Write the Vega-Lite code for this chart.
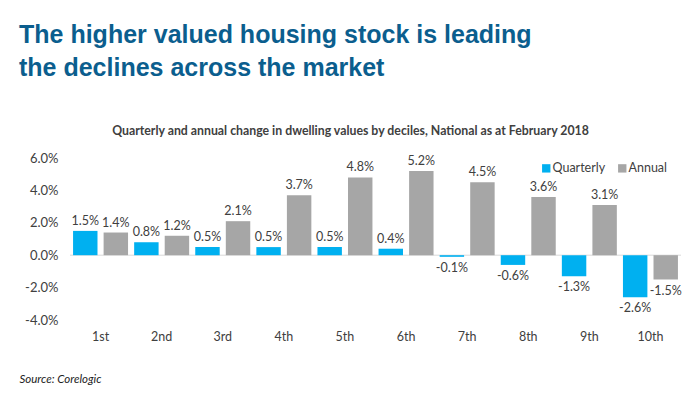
{
  "$schema": "https://vega.github.io/schema/vega-lite/v6.json",
  "background": "white",
  "padding": {"left": 19, "top": 22, "right": 5, "bottom": 5},
  "title": {
    "text": ["The higher valued housing stock is leading", "the declines across the market"],
    "anchor": "start",
    "font": "Liberation Sans",
    "fontSize": 25,
    "fontWeight": "bold",
    "color": "#0b5e8e",
    "lineHeight": 33,
    "offset": 44
  },
  "config": {
    "view": {"stroke": null},
    "font": "Lato",
    "locale": {"number": {"decimal": ".", "thousands": ",", "grouping": [3], "currency": ["$", ""], "minus": "-"}}
  },
  "vconcat": [
    {
      "width": 611,
      "height": 162,
      "title": {
        "text": "Quarterly and annual change in dwelling values by deciles, National as at February 2018",
        "font": "Lato",
        "fontSize": 12.3,
        "fontWeight": "bold",
        "color": "#404040",
        "anchor": "middle",
        "dx": -25,
        "offset": 15
      },
      "data": {
        "values": [
          {"decile": "1st", "series": "Quarterly", "value": 0.015},
          {"decile": "1st", "series": "Annual", "value": 0.014},
          {"decile": "2nd", "series": "Quarterly", "value": 0.008},
          {"decile": "2nd", "series": "Annual", "value": 0.012},
          {"decile": "3rd", "series": "Quarterly", "value": 0.005},
          {"decile": "3rd", "series": "Annual", "value": 0.021},
          {"decile": "4th", "series": "Quarterly", "value": 0.005},
          {"decile": "4th", "series": "Annual", "value": 0.037},
          {"decile": "5th", "series": "Quarterly", "value": 0.005},
          {"decile": "5th", "series": "Annual", "value": 0.048},
          {"decile": "6th", "series": "Quarterly", "value": 0.004},
          {"decile": "6th", "series": "Annual", "value": 0.052},
          {"decile": "7th", "series": "Quarterly", "value": -0.001},
          {"decile": "7th", "series": "Annual", "value": 0.045},
          {"decile": "8th", "series": "Quarterly", "value": -0.006},
          {"decile": "8th", "series": "Annual", "value": 0.036},
          {"decile": "9th", "series": "Quarterly", "value": -0.013},
          {"decile": "9th", "series": "Annual", "value": 0.031},
          {"decile": "10th", "series": "Quarterly", "value": -0.026},
          {"decile": "10th", "series": "Annual", "value": -0.015}
        ]
      },
      "layer": [
        {
          "data": {"values": [{"zero": 0}]},
          "mark": {"type": "rule", "color": "#d9d9d9", "strokeWidth": 1},
          "encoding": {
            "y": {
              "field": "zero", "type": "quantitative",
              "scale": {"domain": [-0.04, 0.06]},
              "axis": {
                "title": null,
                "values": [-0.04, -0.02, 0, 0.02, 0.04, 0.06],
                "tickCount": 10,
                "format": ".1%",
                "grid": false,
                "domain": false,
                "ticks": false,
                "labelOverlap": false,
                "labelFontSize": 13,
                "labelColor": "#404040",
                "labelPadding": 12
              }
            }
          }
        },
        {
          "mark": {"type": "bar"},
          "encoding": {
            "x": {
              "field": "decile", "type": "nominal",
              "sort": ["1st", "2nd", "3rd", "4th", "5th", "6th", "7th", "8th", "9th", "10th"],
              "scale": {"paddingInner": 0.1, "paddingOuter": 0.05},
              "axis": {
                "title": "Source: Corelogic",
                "titleFont": "Lato",
                "titleFontStyle": "italic",
                "titleFontWeight": "normal",
                "titleFontSize": 11.5,
                "titleColor": "#222222",
                "titleAlign": "left",
                "titleAnchor": "start",
                "titleX": -51,
                "titleY": 62,
                "titleBaseline": "alphabetic",
                "domain": false,
                "ticks": false,
                "labelAngle": 0,
                "labelFontSize": 12.5,
                "labelColor": "#404040",
                "labelPadding": 10
              }
            },
            "xOffset": {"field": "series", "sort": ["Quarterly", "Annual"], "scale": {"paddingInner": 0.2}},
            "y": {
              "field": "value", "type": "quantitative",
              "scale": {"domain": [-0.04, 0.06]},
              "axis": {
                "title": null,
                "values": [-0.04, -0.02, 0, 0.02, 0.04, 0.06],
                "tickCount": 10,
                "format": ".1%",
                "grid": false,
                "domain": false,
                "ticks": false,
                "labelOverlap": false,
                "labelFontSize": 13,
                "labelColor": "#404040",
                "labelPadding": 12
              }
            },
            "color": {
              "field": "series", "type": "nominal",
              "scale": {"domain": ["Quarterly", "Annual"], "range": ["#00b0f0", "#a6a6a6"]},
              "legend": {
                "title": null,
                "orient": "none",
                "legendX": 470,
                "legendY": 4,
                "direction": "horizontal",
                "symbolType": "square",
                "symbolSize": 70,
                "symbolStrokeWidth": 0,
                "labelFontSize": 12.5,
                "labelColor": "#404040",
                "columnPadding": 10,
                "labelOffset": 0
              }
            }
          }
        },
        {
          "transform": [{"filter": "datum.value >= 0"}],
          "mark": {"type": "text", "baseline": "bottom", "dy": -3, "fontSize": 12.5, "color": "#404040"},
          "encoding": {
            "x": {"field": "decile", "type": "nominal", "sort": ["1st", "2nd", "3rd", "4th", "5th", "6th", "7th", "8th", "9th", "10th"]},
            "xOffset": {"field": "series", "sort": ["Quarterly", "Annual"]},
            "y": {"field": "value", "type": "quantitative"},
            "text": {"field": "value", "type": "quantitative", "format": ".1%"}
          }
        },
        {
          "transform": [{"filter": "datum.value < 0"}],
          "mark": {"type": "text", "baseline": "top", "dy": 5, "fontSize": 12.5, "color": "#404040"},
          "encoding": {
            "x": {"field": "decile", "type": "nominal", "sort": ["1st", "2nd", "3rd", "4th", "5th", "6th", "7th", "8th", "9th", "10th"]},
            "xOffset": {"field": "series", "sort": ["Quarterly", "Annual"]},
            "y": {"field": "value", "type": "quantitative"},
            "text": {"field": "value", "type": "quantitative", "format": ".1%"}
          }
        }
      ]
    }
  ]
}
